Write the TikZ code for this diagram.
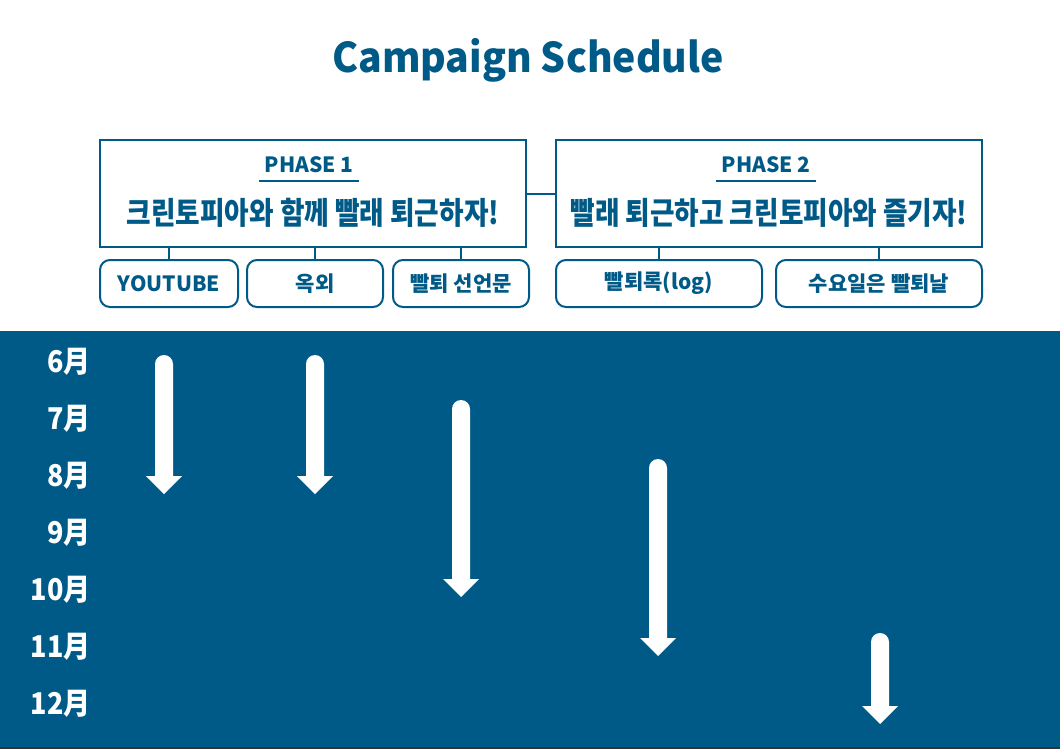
\documentclass[tikz,border=0pt]{standalone}
\usepackage{fontspec}
\usepackage{graphicx}
\setmainfont{Noto Sans CJK KR}
\definecolor{navy}{HTML}{005A87}
\definecolor{edge}{HTML}{333333}
\newcommand{\tlarrow}[3]{%
  \fill[white] (#1-9,#3-18) -- (#1-9,#2+9) arc[start angle=180,end angle=360,radius=9]
    -- (#1+9,#3-18) -- (#1+18,#3-18) -- (#1,#3) -- (#1-18,#3-18) -- cycle;}
\newcommand{\sqz}[2]{\scalebox{#1}[1]{#2}}
\tikzset{
  phasebox/.style={draw=navy, line width=2pt, minimum width=426pt, minimum height=107pt, inner sep=0pt},
  subbox/.style={draw=navy, line width=2pt, rounded corners=10pt, minimum height=47pt, inner sep=0pt,
     font=\fontsize{21}{24}\selectfont\bfseries, text=navy},
  phaselabel/.style={font=\fontsize{21}{24}\selectfont\bfseries, text=navy, inner xsep=5pt, inner ysep=8pt},
  slogan/.style={font=\fontsize{31}{34}\selectfont\bfseries, text=navy},
  month/.style={font=\fontsize{30}{32}\selectfont\bfseries, text=white, anchor=east, inner sep=0pt},
  link/.style={draw=navy, line width=2pt},
}
\begin{document}
\begin{tikzpicture}[x=1pt,y=-1pt]
\useasboundingbox (0,0) rectangle (1060,749);
\fill[white] (0,0) rectangle (1060,749);
\fill[navy] (0,331) rectangle (1060,747);
\fill[edge] (0,747) rectangle (1060,749);

\node[font=\fontsize{41}{46}\selectfont\bfseries, text=navy] (title) at (528,60) {\sqz{0.955}{Campaign Schedule}};

\node[phasebox] (p1) at (313,193.5) {};
\node[phasebox] (p2) at (769,193.5) {};
\draw[link] (p1.east) -- (p2.west);

\node[phaselabel] (ph1) at (309,165) {PHASE 1};
\draw[link] (ph1.south west) -- (ph1.south east);
\node[phaselabel] (ph2) at (766,165) {PHASE 2};
\draw[link] (ph2.south west) -- (ph2.south east);

\node[slogan] (sl1) at (313,213) {\sqz{0.86}{크린토피아와 함께 빨래 퇴근하자!}};
\node[slogan] (sl2) at (769,213) {\sqz{0.86}{빨래 퇴근하고 크린토피아와 즐기자!}};

\node[subbox, minimum width=138pt] (s1) at (169,283.5) {YOUTUBE};
\node[subbox, minimum width=136pt] (s2) at (315,283.5) {옥외};
\node[subbox, minimum width=136pt] (s3) at (461,283.5) {빨퇴 선언문};
\node[subbox, minimum width=206pt] (s4) at (659,283.5) {빨퇴록(log)};
\node[subbox, minimum width=206pt] (s5) at (879,283.5) {수요일은 빨퇴날};
\foreach \s in {s1,s2,s3}{\draw[link] (\s.north) -- (\s.north |- p1.south);}
\foreach \s in {s4,s5}{\draw[link] (\s.north) -- (\s.north |- p2.south);}

\node[month] (m6) at (91,362) {\sqz{0.9}{6月}};
\node[month] (m7) at (91,419) {\sqz{0.9}{7月}};
\node[month] (m8) at (91,476) {\sqz{0.9}{8月}};
\node[month] (m9) at (91,533) {\sqz{0.9}{9月}};
\node[month] (m10) at (91,590) {\sqz{0.9}{10月}};
\node[month] (m11) at (91,647) {\sqz{0.9}{11月}};
\node[month] (m12) at (91,704) {\sqz{0.9}{12月}};

\tlarrow{164}{355}{494}
\tlarrow{315}{355}{494}
\tlarrow{461}{400}{597}
\tlarrow{658}{459}{656}
\tlarrow{880}{633}{724}
\end{tikzpicture}
\end{document}
